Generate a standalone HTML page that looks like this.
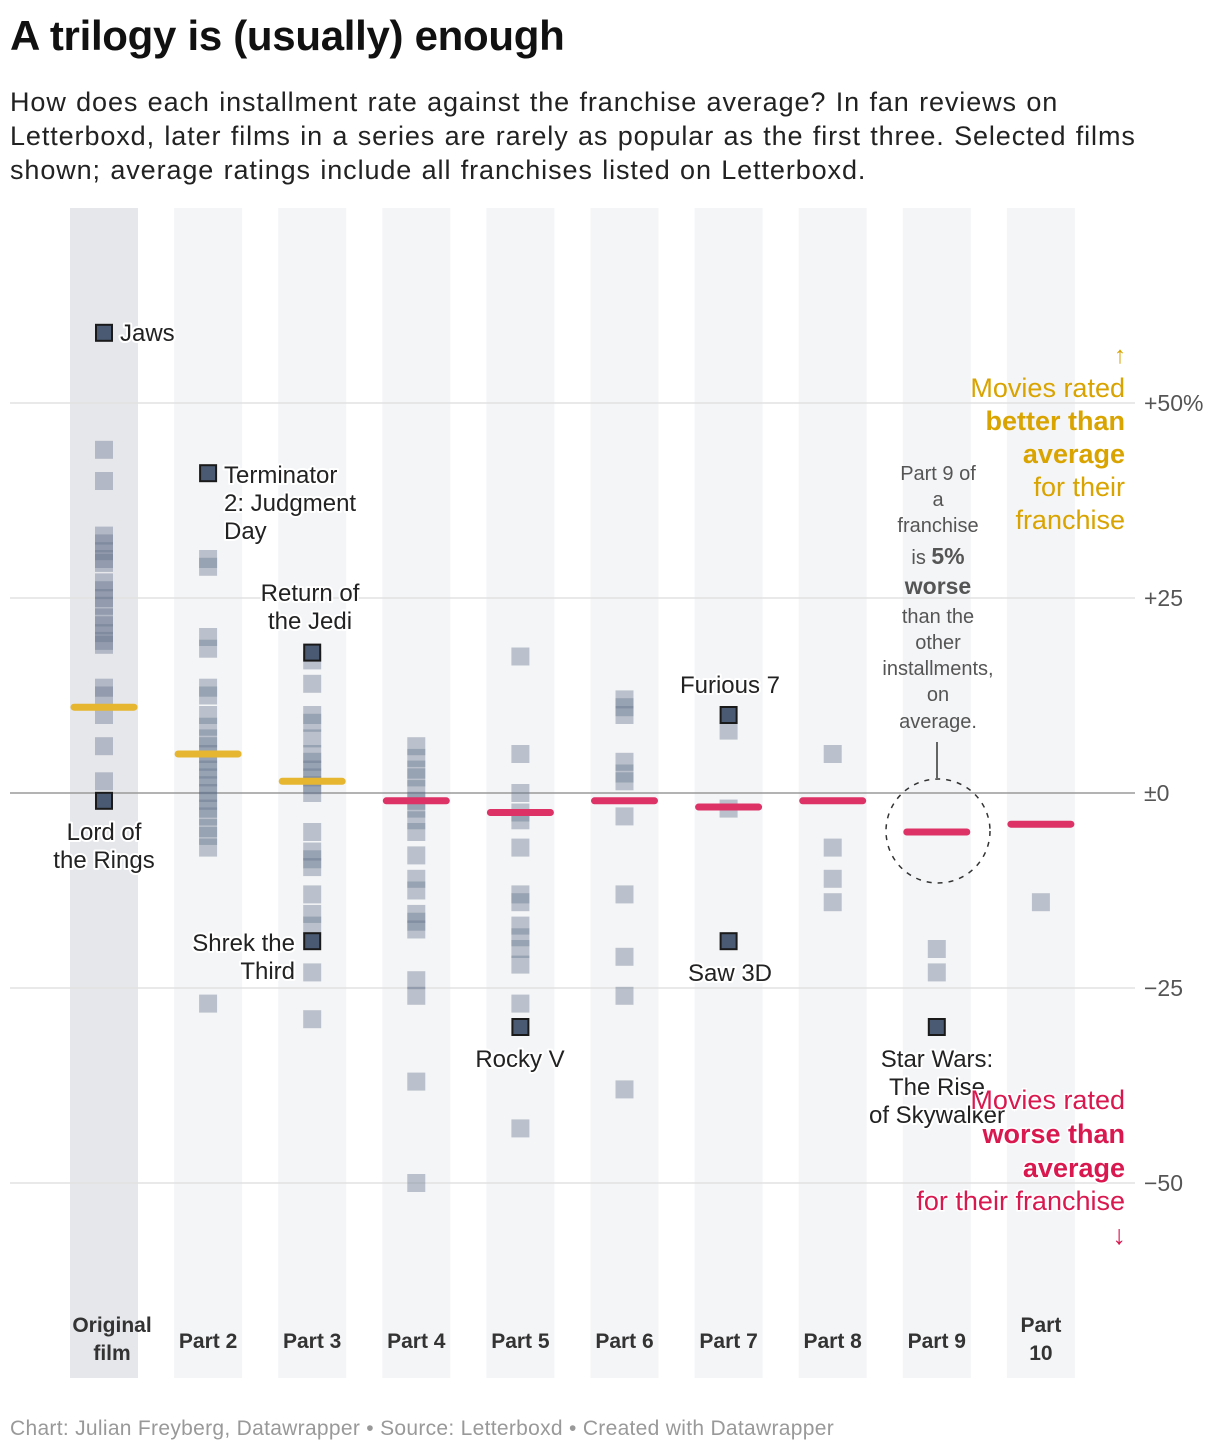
<!DOCTYPE html>
<html><head><meta charset="utf-8">
<style>
body{margin:0;background:#fff;font-family:"Liberation Sans",sans-serif;}
#wrap{position:relative;width:1220px;height:1454px;overflow:hidden;}
h1{position:absolute;left:10px;top:12px;margin:0;font-size:42px;font-weight:bold;color:#111;letter-spacing:-0.3px;}
#sub{position:absolute;left:10px;top:85px;width:1200px;margin:0;font-size:27px;line-height:34px;color:#222;letter-spacing:0.9px;word-spacing:1px;}
#foot{position:absolute;left:10px;top:1417px;font-size:21px;color:#999;letter-spacing:0.3px;}
svg{position:absolute;left:0;top:0;}
</style></head><body>
<div id="wrap">
<h1>A trilogy is (usually) enough</h1>
<p id="sub">How does each installment rate against the franchise average? In fan reviews on<br>Letterboxd, later films in a series are rarely as popular as the first three. Selected films<br>shown; average ratings include all franchises listed on Letterboxd.</p>
<svg id="chart" width="1220" height="1454"></svg>
<div id="foot">Chart: Julian Freyberg, Datawrapper • Source: Letterboxd • Created with Datawrapper</div>
</div>
<script>
const categories = ["Original film","Part 2","Part 3","Part 4","Part 5","Part 6","Part 7","Part 8","Part 9","Part 10"];
const values0 = [44,40,33,32,31,30,29.5,27,26,25,24,22.5,21.5,20.5,19.5,19,13.5,12.5,10,6,1.5];
const values1 = [30,29,20,18.5,13.5,12.5,10,8.5,7,6,5,4,3,2,1,0,-1,-2,-3,-4.5,-5.5,-7,-27];
const values2 = [17,14,10,9,7,5,4,3,2,1,0,-5,-7.5,-8.5,-9.5,-13,-15.5,-17,-23,-29];
const values3 = [6,4.5,3,2,0.5,-1,-2,-3.5,-5,-8,-11,-12.5,-15.5,-16.5,-17.5,-24,-26,-37,-50];
const values4 = [17.5,5,0,-2.5,-3.5,-7,-13,-14,-17,-18.5,-20,-22,-27,-43];
const values5 = [12,11,10,4,2.5,1.5,-3,-13,-21,-26,-38];
const values6 = [8,-2];
const values7 = [5,-7,-11,-14];
const values8 = [-20,-23];
const values9 = [-14];
const averages = [11,5,1.5,-1,-2.5,-1,-1.8,-1,-5,-4];
const highlightNames = ["Jaws","Lord of the Rings","Terminator 2: Judgment Day","Return of the Jedi","Shrek the Third","Rocky V","Furious 7","Saw 3D","Star Wars: The Rise of Skywalker"];
const highlightCols = [0,0,1,2,2,4,6,6,8];
const highlightVals = [59,-1,41,18,-19,-30,10,-19,-30];
const yTicks = [50,25,0,-25,-50];
const yTickLabels = ["+50%","+25","±0","−25","−50"];

const allVals=[values0,values1,values2,values3,values4,values5,values6,values7,values8,values9];
const NS="http://www.w3.org/2000/svg";
const svg=document.getElementById('chart');
const y=v=>793-v*7.8;
const x=i=>104+i*104.1;
function el(tag,attrs,parent){const e=document.createElementNS(NS,tag);for(const k in attrs)e.setAttribute(k,attrs[k]);(parent||svg).appendChild(e);return e;}

categories.forEach((c,i)=>{
  const r=el('rect',{x:x(i)-34,y:208,width:68,height:1170,fill:i===0?'#e6e7eb':'#f4f5f7'});
  
  
});
yTicks.forEach((t,i)=>{
  const l=el('line',{x1:10,x2:1135,y1:y(t),y2:y(t),stroke:t===0?'#9a9a9a':'#e2e2e2','stroke-width':1.5});
  
  
  const tx=el('text',{x:1144,y:y(t)+8,'font-size':23,fill:'#555'});
  tx.textContent=yTickLabels[i];
  
  
});
allVals.forEach((arr,i)=>{
  arr.forEach(v=>{
    const r=el('rect',{x:x(i)-9,y:y(v)-9,width:18,height:18,fill:'rgb(100,115,140)','fill-opacity':0.4});
    
    
  });
});
averages.forEach((v,i)=>{
  const l=el('line',{x1:x(i)-30,x2:x(i)+30,y1:y(v),y2:y(v),stroke:v>0?'#e6b631':'#dc3266','stroke-width':7,'stroke-linecap':'round'});
  
  
});
highlightVals.forEach((v,k)=>{
  const i=highlightCols[k];
  const r=el('rect',{x:x(i)-8,y:y(v)-8,width:16,height:16,fill:'#4a5a73',stroke:'#1a1a1a','stroke-width':2});
  
  
});
function label(lines,xx,yy,anchor,opts){
  opts=opts||{};
  const t=el('text',{x:xx,y:yy,'text-anchor':anchor,'font-size':opts.size||24,fill:opts.fill||'#222',stroke:opts.halo===false?'none':'#fff','stroke-width':opts.halo===false?0:4,'paint-order':'stroke','stroke-linejoin':'round'});
  lines.forEach((ln,j)=>{const s=el('tspan',{x:xx,dy:j===0?0:(opts.lh||28)},t);s.textContent=ln;});
  return t;
}
let t;
t=label(["Jaws"],120,341,'start');
t=label(["Lord of","the Rings"],104,840,'middle');
t=label(["Terminator","2: Judgment","Day"],224,483,'start');
t=label(["Return of","the Jedi"],310,601,'middle');
t=label(["Shrek the","Third"],295,951,'end');
t=label(["Rocky V"],520,1067,'middle');
t=label(["Furious 7"],730,693,'middle');
t=label(["Saw 3D"],730,981,'middle');
t=label(["Star Wars:","The Rise","of Skywalker"],937,1067,'middle');

categories.forEach((c,i)=>{
  const lines=i===0?["Original","film"]:(i===9?["Part","10"]:[c]);
  const yy=lines.length===2?1332:1348;
  const tt=label(lines,x(i)+(i===0?8:0),yy,'middle',{size:21,fill:'#333',halo:false,lh:28});
  tt.setAttribute('font-weight','bold');
  
  
});

const gold='#d9a300',red='#d9184f';
t=label(["↑"],1126,363,'end',{fill:gold,halo:false,size:24});
const ga=el('text',{x:1125,y:397,'text-anchor':'end','font-size':27,fill:gold});

[["Movies rated",0,false],["better than",33,true],["average",33,true],["for their",33,false],["franchise",33,false]].forEach(a=>{const s=el('tspan',{x:1125,dy:a[1]},ga);s.textContent=a[0];if(a[2])s.setAttribute('font-weight','bold');});
const ra=el('text',{x:1125,y:1109,'text-anchor':'end','font-size':27,fill:red,stroke:'#fff','stroke-width':3,'paint-order':'stroke'});

[["Movies rated",0,false],["worse than",34,true],["average",34,true],["for their franchise",33,false],["↓",34,false]].forEach(a=>{const s=el('tspan',{x:a[0]==="↓"?1126:1125,dy:a[1]},ra);s.textContent=a[0];if(a[2])s.setAttribute('font-weight','bold');});

const pa=el('text',{x:938,y:480,'text-anchor':'middle','font-size':20,fill:'#555'});

[["Part 9 of",0],["a",26],["franchise",26],["is ",32,"5%"],["worse",30,null,true],["than the",29],["other",26],["installments,",26],["on",26],["average.",27]].forEach(a=>{
  const s=el('tspan',{x:938,dy:a[1]},pa);s.textContent=a[0];
  if(a[2]){const b=el('tspan',{'font-weight':'bold','font-size':23},pa);b.textContent=a[2];}
  if(a[3]){s.setAttribute('font-weight','bold');s.setAttribute('font-size',23);}
});
const ln=el('line',{x1:937,x2:937,y1:742,y2:778,stroke:'#333','stroke-width':1.5});

const ci=el('circle',{cx:938,cy:831,r:52,fill:'none',stroke:'#333','stroke-width':1.5,'stroke-dasharray':'5 6'});

</script>
</body></html>
